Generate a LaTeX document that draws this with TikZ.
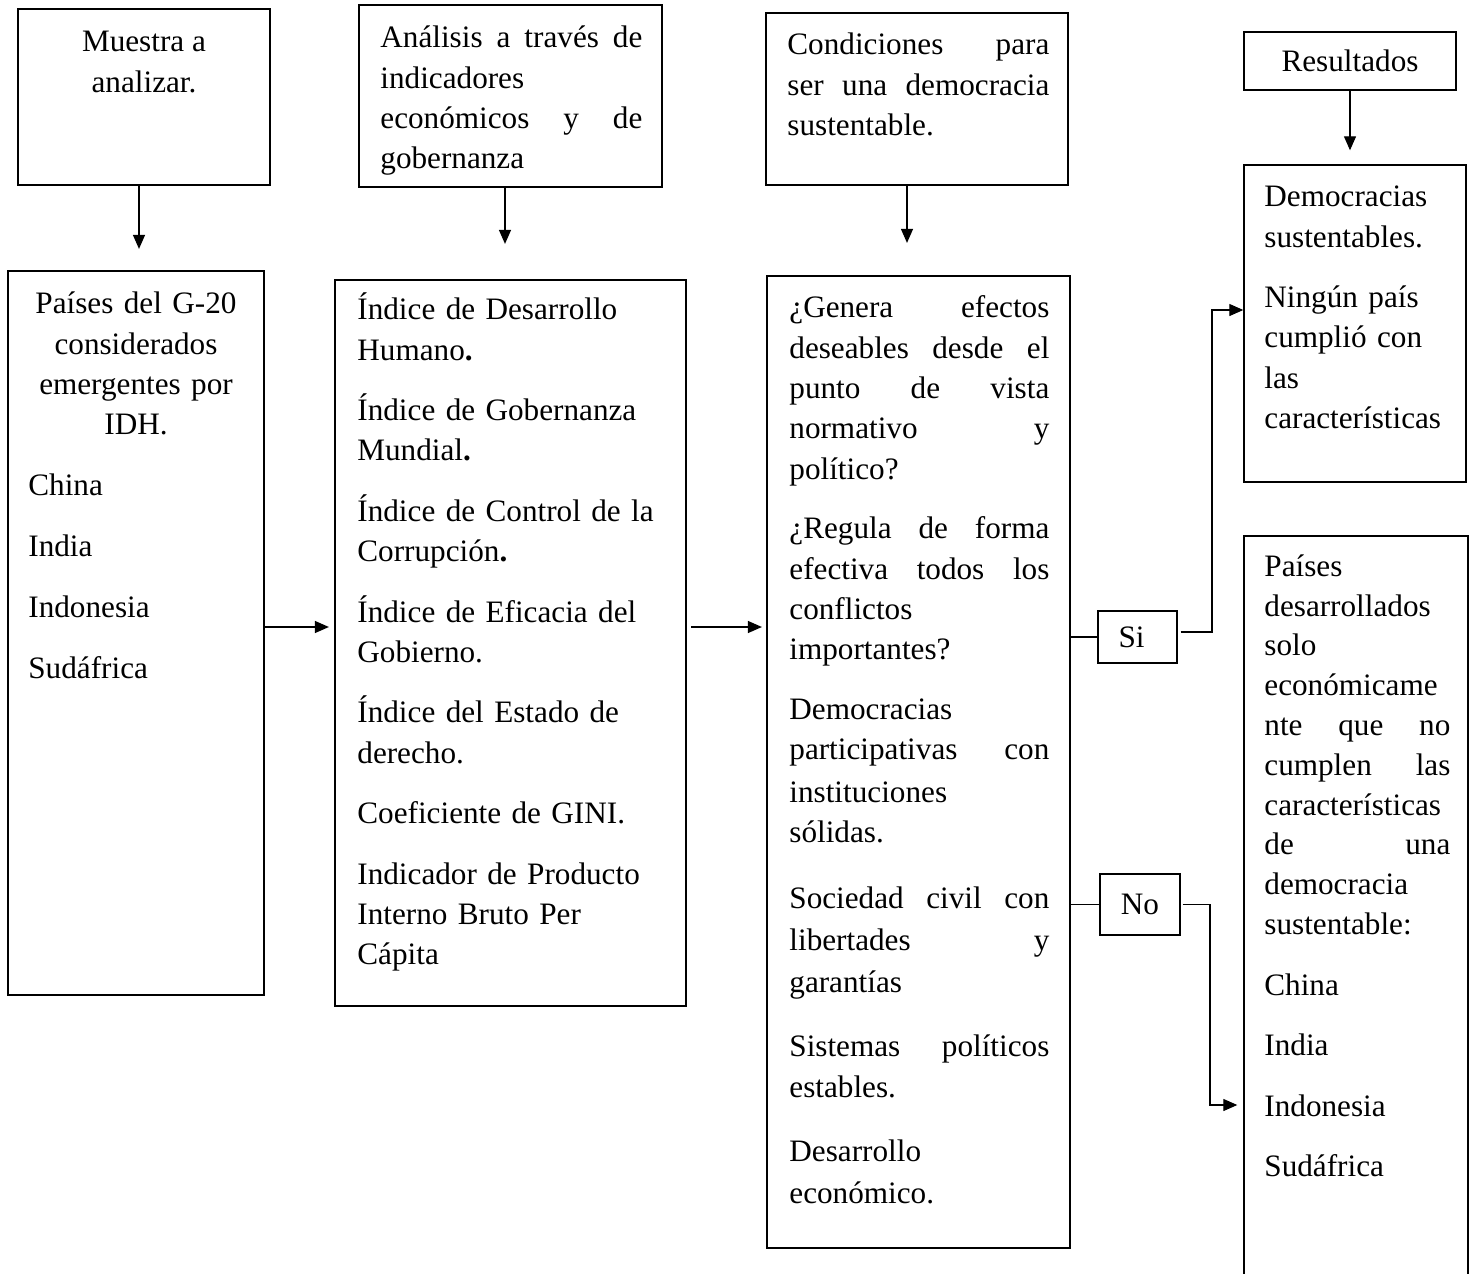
\documentclass[tikz,border=0pt]{standalone}
\usepackage{fontspec}
\setmainfont{Liberation Serif}
\usetikzlibrary{arrows.meta}

\tikzset{
  box/.style={draw, line width=1.1pt, inner sep=0pt},
  thinbox/.style={draw, line width=0.7pt, inner sep=0pt, font=\fontsize{15.6}{20.2}\selectfont},
  txt/.style={inner sep=0pt, align=left, font=\fontsize{15.6}{20.2}\selectfont, execute at begin node=\strut},
  arr/.style={line width=0.6pt, -{Triangle[length=7pt,width=6pt]}},
  conn/.style={line width=0.6pt},
}

\begin{document}
\begin{tikzpicture}[x=0.5pt,y=0.5pt,yscale=-1,xscale=1]
\useasboundingbox (0,0) rectangle (1473,1274);

%Shape: Rectangle
\node[box, minimum width=126pt, minimum height=88pt] (muestra) at (144,97) {};
\node[box, minimum width=151.5pt, minimum height=91pt] (analisis) at (510.5,96) {};
\node[box, minimum width=151pt, minimum height=86pt] (condic) at (917,99) {};
\node[thinbox, minimum width=106pt, minimum height=29pt, text height=14pt, text depth=3.4pt] (resul) at (1350,61) {Resultados};
\node[thinbox, minimum width=111pt, minimum height=158.5pt] (democ) at (1355,323.5) {};
\node[box, minimum width=128pt, minimum height=362pt] (paises) at (136,633) {};
\node[box, minimum width=175.5pt, minimum height=363pt] (indices) at (510.5,643) {};
\node[box, minimum width=151.5pt, minimum height=486pt] (preguntas) at (918.5,762) {};
\node[thinbox, minimum width=39.5pt, minimum height=26pt] (si) at (1137.5,637) {\hspace*{-6pt}Si};
\node[thinbox, minimum width=40pt, minimum height=30.5pt] (no) at (1140,904.5) {No};
\node[thinbox, minimum width=112pt, minimum height=382pt] (desarr) at (1356,918) {};

% Text Node
\node[txt, align=center, anchor=north] (tmuestra) at (144,31) {Muestra a\\analizar.};
% Text Node
\node[txt, text width=131pt, anchor=north west] (tanalisis) at (380,19)
  {Análisis\hfill a\hfill través\hfill de\\indicadores\\económicos\hfill y\hfill de\\gobernanza};
% Text Node
\node[txt, text width=131pt, anchor=north west] (tcondic) at (787,26)
  {Condiciones\hfill para\\ser\hfill una\hfill democracia\\sustentable.};
% Text Node
\node[txt, text width=93pt, anchor=north west] (tdemoc) at (1264,178)
  {Democracias\\sustentables.\\[10pt]Ningún país\\cumplió con\\las\\características};
% Text Node
\node[txt, text width=110pt, align=center, anchor=north] (tpaises) at (136,285)
  {Países del G-20\\considerados\\emergentes por\\IDH.};
% Text Node
\node[txt, text width=110pt, anchor=north west] (tlista) at (28,467)
  {China\\[10.2pt]India\\[10.2pt]Indonesia\\[10.2pt]Sudáfrica};
% Text Node
\node[txt, text width=160pt, anchor=north west] (tindices) at (357,291)
  {Índice de Desarrollo\\Humano\textbf{.}\\[10pt]Índice de Gobernanza\\Mundial\textbf{.}\\[10pt]Índice de Control de la\\Corrupción\textbf{.}\\[10pt]Índice de Eficacia del\\Gobierno.\\[10pt]Índice del Estado de\\derecho.\\[10pt]Coeficiente de GINI.\\[10pt]Indicador de Producto\\Interno Bruto Per\\Cápita};
% Text Node
\node[txt, text width=130pt, anchor=north west] (tpreguntas) at (789,289)
  {¿Genera\hfill efectos\\deseables\hfill desde\hfill el\\punto\hfill de\hfill vista\\normativo\hfill y\\político?\\[9.5pt]¿Regula\hfill de\hfill forma\\efectiva\hfill todos\hfill los\\conflictos\\importantes?\\[9.5pt]Democracias\\participativas\hfill con\\[1pt]instituciones\\sólidas.\\[12.8pt]Sociedad\hfill civil\hfill con\\[0.8pt]libertades\hfill y\\[0.8pt]garantías\\[11.8pt]Sistemas\hfill políticos\\[0.3pt]estables.\\[11.8pt]Desarrollo\\[0.8pt]económico.};
% Text Node
\node[txt, text width=93pt, anchor=north west, font=\fontsize{15.6}{19.9}\selectfont] (tdesarr) at (1264,548)
  {Países\\desarrollados\\solo\\económicame\\nte\hfill que\hfill no\\cumplen\hfill las\\características\\de\hfill una\\democracia\\sustentable:\\[10.4pt]China\\[10.4pt]India\\[10.4pt]Indonesia\\[10.4pt]Sudáfrica};

%Straight Lines
\draw[arr, shorten >=10.5pt] (muestra.south -| 139,0) -- (paises.north -| 139,0);
\draw[arr, shorten >=17.5pt] (analisis.south -| 505,0) -- (indices.north -| 505,0);
\draw[arr, shorten >=16pt] (condic.south -| 907,0) -- (preguntas.north -| 907,0);
\draw[arr, shorten >=7pt] (resul.south -| 1350,0) -- (democ.north -| 1350,0);
\draw[arr, shorten >=2.5pt] (paises.east |- 0,627) -- (indices.west |- 0,627);
\draw[arr, shorten <=2pt, shorten >=2pt] (indices.east |- 0,627) -- (preguntas.west |- 0,627);
%Straight Lines
\draw[conn] (preguntas.east |- si.west) -- (si.west);
\draw[arr, shorten <=1.5pt] (si.east |- 0,632) -| (1212,310) -- (democ.west |- 0,310);
\draw[conn] (preguntas.east |- no.west) -- (no.west);
\draw[arr, shorten <=1pt, shorten >=3pt] (no.east) -| (1210,1105) -- (desarr.west |- 0,1105);

\end{tikzpicture}
\end{document}
